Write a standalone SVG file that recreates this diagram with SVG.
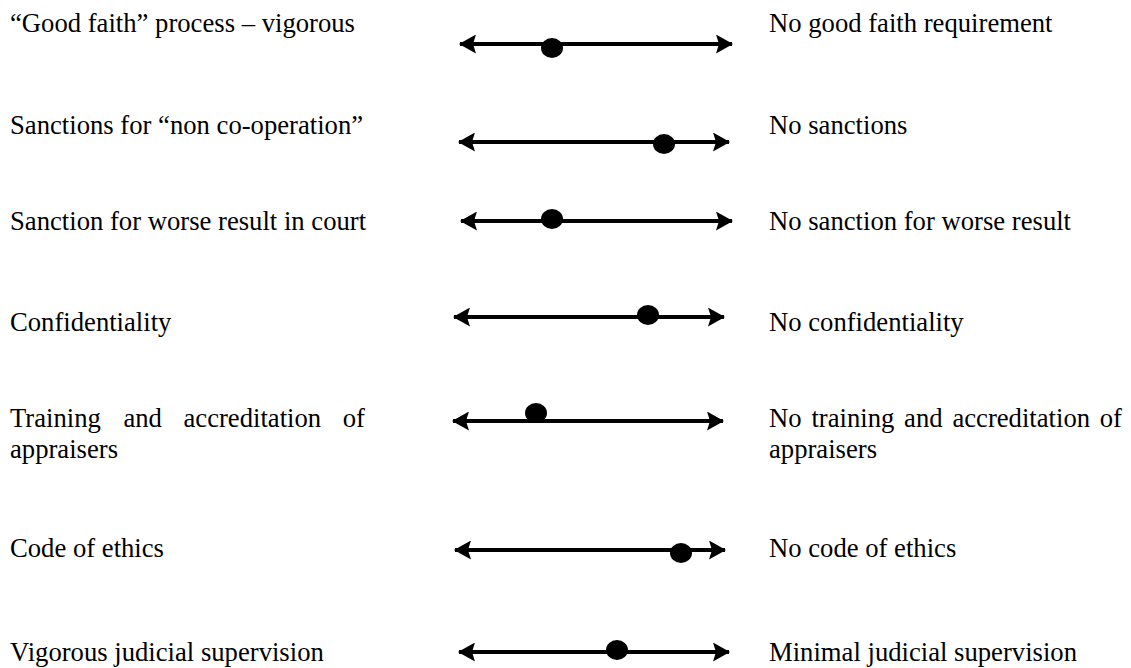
<svg xmlns="http://www.w3.org/2000/svg" width="1131" height="668" viewBox="0 0 1131 668">
  <style>
    text { font-family: 'Liberation Serif', 'Times New Roman', serif; font-size: 26.67px; fill: #000; }
    .end { text-anchor: end; }
    .scale { stroke: #000; stroke-width: 4; fill: none; marker-start: url(#head); marker-end: url(#head); }
    .dot { fill: #000; }
  </style>
  <defs>
    <marker id="head" viewBox="0 0 17 19" refX="16" refY="9.5" markerWidth="17" markerHeight="19" markerUnits="userSpaceOnUse" orient="auto-start-reverse">
      <path d="M0,0 L17,9.5 L0,19 L3,9.5 Z" fill="#000"/>
    </marker>
  </defs>

  <!-- left-hand labels -->
  <g id="labels-left">
    <text id="l1" x="10" y="32">“Good faith” process – vigorous</text>
    <text id="l2" x="10" y="134">Sanctions for “non co-operation”</text>
    <text id="l3" x="10" y="230">Sanction for worse result in court</text>
    <text id="l4" x="10" y="331">Confidentiality</text>
    <g id="l5">
      <text x="10" y="427">Training</text>
      <text x="123.4" y="427">and</text>
      <text x="183.5" y="427">accreditation</text>
      <text class="end" x="365" y="427">of</text>
      <text x="10" y="458">appraisers</text>
    </g>
    <text id="l6" x="10" y="557">Code of ethics</text>
    <text id="l7" x="10" y="661">Vigorous judicial supervision</text>
  </g>

  <!-- right-hand labels -->
  <g id="labels-right">
    <text id="r1" x="769" y="32">No good faith requirement</text>
    <text id="r2" x="769" y="134">No sanctions</text>
    <text id="r3" x="769" y="230">No sanction for worse result</text>
    <text id="r4" x="769" y="331">No confidentiality</text>
    <g id="r5">
      <text x="769" y="427">No</text>
      <text x="811.4" y="427">training</text>
      <text x="904.1" y="427">and</text>
      <text x="952.4" y="427">accreditation</text>
      <text class="end" x="1122" y="427">of</text>
      <text x="769" y="458">appraisers</text>
    </g>
    <text id="r6" x="769" y="557">No code of ethics</text>
    <text id="r7" x="769" y="661">Minimal judicial supervision</text>
  </g>

  <!-- double-headed scales -->
  <g id="connectors">
    <line class="scale" x1="460" y1="44" x2="732" y2="44"/>
    <line class="scale" x1="459" y1="142" x2="729" y2="142"/>
    <line class="scale" x1="461" y1="221" x2="732" y2="221"/>
    <line class="scale" x1="454" y1="317" x2="724" y2="317"/>
    <line class="scale" x1="453" y1="421" x2="723" y2="421"/>
    <line class="scale" x1="455" y1="550" x2="725" y2="550"/>
    <line class="scale" x1="459" y1="652" x2="729" y2="652"/>
  </g>

  <!-- position markers -->
  <g id="markers">
    <ellipse id="m1" class="dot" cx="552" cy="48" rx="11" ry="10"/>
    <ellipse id="m2" class="dot" cx="664" cy="144" rx="11" ry="10"/>
    <ellipse id="m3" class="dot" cx="552" cy="219" rx="11" ry="10"/>
    <ellipse id="m4" class="dot" cx="648" cy="315" rx="11" ry="10"/>
    <ellipse id="m5" class="dot" cx="536" cy="413" rx="11" ry="10"/>
    <ellipse id="m6" class="dot" cx="681" cy="553" rx="11" ry="10"/>
    <ellipse id="m7" class="dot" cx="617" cy="650" rx="11" ry="10"/>
  </g>
</svg>
